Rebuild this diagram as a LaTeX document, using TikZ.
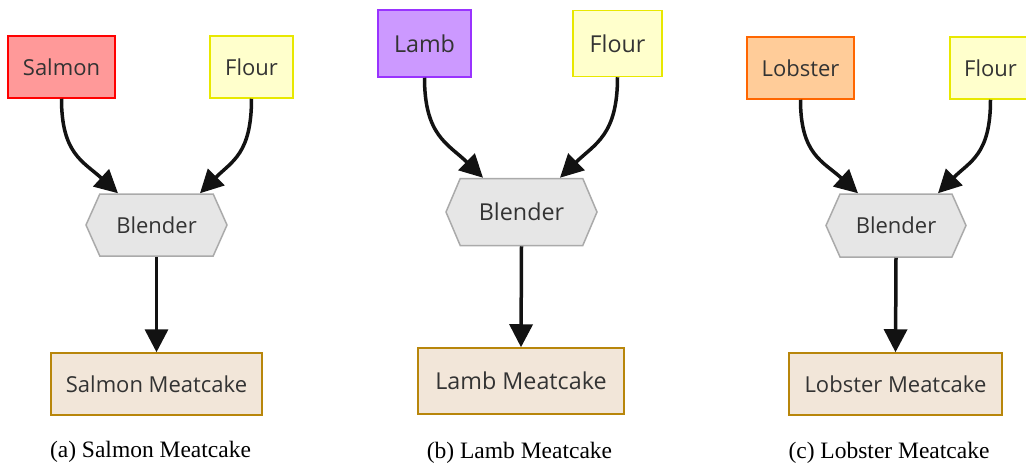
\documentclass[tikz,border=0pt]{standalone}
\usepackage{fontspec}
\setmainfont{Liberation Serif}
\newfontfamily\boxfont{Open Sans}
\usetikzlibrary{arrows.meta,shapes.symbols,calc}

\definecolor{txtgray}{HTML}{333333}
\definecolor{salmonfill}{HTML}{FF9999}
\definecolor{salmonline}{HTML}{FF0000}
\definecolor{flourfill}{HTML}{FFFFCC}
\definecolor{flourline}{HTML}{E8E800}
\definecolor{lambfill}{HTML}{CC99FF}
\definecolor{lambline}{HTML}{9933FF}
\definecolor{lobsterfill}{HTML}{FFCC99}
\definecolor{lobsterline}{HTML}{FF6600}
\definecolor{blendfill}{HTML}{E6E6E6}
\definecolor{blendline}{HTML}{AAAAAA}
\definecolor{cakefill}{HTML}{F2E6D9}
\definecolor{cakeline}{HTML}{B8860B}

\tikzset{
  ingr/.style={draw, line width=1.5pt, inner sep=0pt, text=txtgray,
    font=\boxfont\fontsize{22}{26}\selectfont},
  blendbox/.style={ingr, shape=signal, signal to=west and east,
    signal pointer angle=132, fill=blendfill, draw=blendline},
  cakebox/.style={ingr, fill=cakefill, draw=cakeline},
  feed/.style={line width=3.5pt, draw=black!93,
    -{Triangle[length=23pt,width=23pt]}},
  capt/.style={anchor=base, font=\fontsize{23.5}{28}\selectfont}
}

\begin{document}
\begin{tikzpicture}[x=1pt,y=-1pt]
  \useasboundingbox (0,0) rectangle (1026,464);

  % (a) salmon
  \node[ingr, fill=salmonfill, draw=salmonline, minimum width=107pt, minimum height=62pt] (salmon) at (61.5,67) {Salmon};
  \node[ingr, fill=flourfill, draw=flourline, minimum width=83pt, minimum height=62pt] (flourA) at (251.5,67) {Flour};
  \node[blendbox, minimum width=141pt, minimum height=62pt] (blendA) at (156.5,225) {Blender};
  \node[cakebox, minimum width=211pt, minimum height=62pt] (cakeA) at (156.5,384) {Salmon Meatcake};
  \draw[feed] (salmon.south) .. controls +(0,55) and +(-35,-32) .. ($(blendA.north)+(-38.5,0)$);
  \draw[feed] (flourA.south) .. controls +(0,55) and +(32,-32) .. ($(blendA.north)+(43.5,0)$);
  \draw[feed] (blendA.south) -- (cakeA.north);
  \node[capt] (captA) at (150.5,457) {(a) Salmon Meatcake};

  % (b) lamb
  \node[ingr, fill=lambfill, draw=lambline, minimum width=93pt, minimum height=67pt,
    font=\boxfont\fontsize{23.3}{27}\selectfont] (lamb) at (424.5,43.5) {Lamb};
  \node[ingr, fill=flourfill, draw=flourline, minimum width=89pt, minimum height=66pt,
    font=\boxfont\fontsize{23.3}{27}\selectfont] (flourB) at (617.5,43.5) {Flour};
  \node[blendbox, minimum width=151pt, minimum height=67pt, signal pointer angle=134,
    font=\boxfont\fontsize{23.3}{27}\selectfont] (blendB) at (521.5,212) {Blender};
  \node[cakebox, minimum width=206pt, minimum height=66pt,
    font=\boxfont\fontsize{23.3}{27}\selectfont] (cakeB) at (521,381) {Lamb Meatcake};
  \draw[feed] (lamb.south) .. controls +(0,58) and +(-35,-34) .. ($(blendB.north)+(-38.5,0)$);
  \draw[feed] (flourB.south) .. controls +(0,58) and +(35,-34) .. ($(blendB.north)+(38.5,0)$);
  \draw[feed] (blendB.south) -- (cakeB.north);
  \node[capt] (captB) at (519.5,458) {(b) Lamb Meatcake};

  % (c) lobster
  \node[ingr, fill=lobsterfill, draw=lobsterline, minimum width=107pt, minimum height=62pt] (lobster) at (800.5,68) {Lobster};
  \node[ingr, fill=flourfill, draw=flourline, minimum width=81pt, minimum height=62pt] (flourC) at (990.5,68) {Flour};
  \node[blendbox, minimum width=140pt, minimum height=63pt] (blendC) at (896,225.5) {Blender};
  \node[cakebox, minimum width=213pt, minimum height=62pt] (cakeC) at (895.5,384) {Lobster Meatcake};
  \draw[feed] (lobster.south) .. controls +(0,55) and +(-35,-32) .. ($(blendC.north)+(-38,0)$);
  \draw[feed] (flourC.south) .. controls +(0,55) and +(32,-32) .. ($(blendC.north)+(42,0)$);
  \draw[feed] (blendC.south) -- (cakeC.north);
  \node[capt] (captC) at (889,458) {(c) Lobster Meatcake};
\end{tikzpicture}
\end{document}
